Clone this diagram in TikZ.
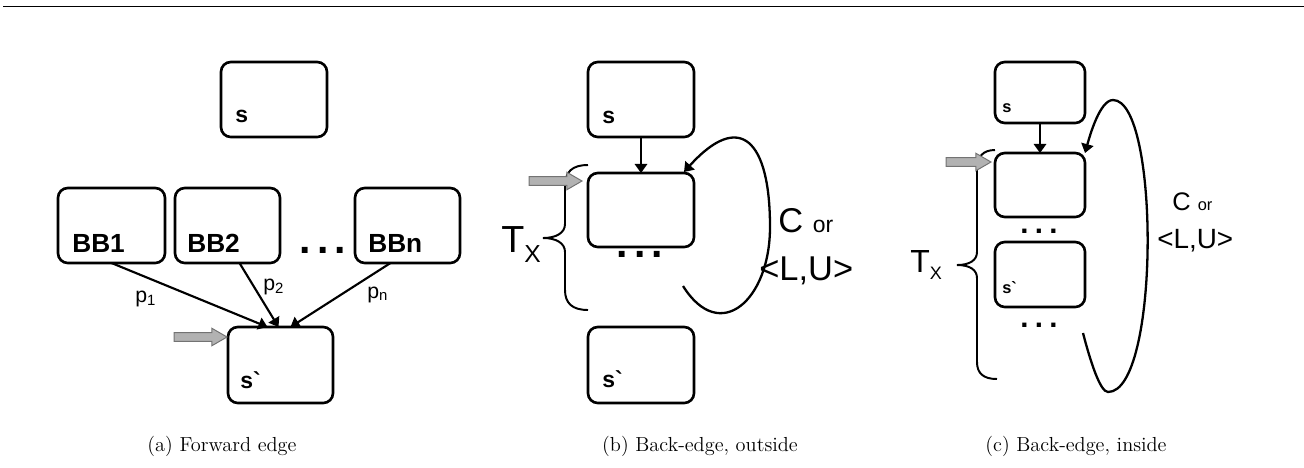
\documentclass[tikz,border=0pt]{standalone}
\usepackage{fontspec}
\setsansfont{Liberation Sans}
\usetikzlibrary{arrows.meta, positioning, calc, shapes.arrows}
\newcommand\pxu{0.61pt}

\begin{document}
\begin{tikzpicture}[
    x=0.61pt, y=-0.61pt,
    block/.style={draw, line width=1.6pt, rounded corners=6pt, inner sep=0pt, outer sep=0pt,
                  minimum width=105*\pxu, minimum height=75*\pxu},
    lbl/.style={font=\sffamily\bfseries\fontsize{#1}{#1}\selectfont, anchor=base west, inner sep=0pt},
    lbl/.default=14,
    plain/.style={font=\sffamily\fontsize{#1}{#1}\selectfont, anchor=base west, inner sep=0pt},
    dotrow/.style={font=\sffamily\bfseries\fontsize{#1}{#1}\selectfont, anchor=base, inner sep=0pt},
    entry/.style={single arrow, fill=black!30, draw=black!55, line width=0.6pt,
                  inner sep=2.4pt, single arrow head extend=2.6pt,
                  single arrow tip angle=60, anchor=tip},
    arrow/.style={-{Triangle[length=5.5pt,width=7.5pt]}, line width=1.3pt},
    loop/.style={-{Triangle[length=5.5pt,width=7.5pt]}, line width=1.4pt},
    brace/.style={line width=1.2pt},
    caption/.style={font=\fontsize{12.4}{14}\selectfont, anchor=base}
]
\useasboundingbox (0,0) rectangle (1304,467);

% top rule
\draw[line width=1.2pt] (3,6.5) -- (1304,6.5);

% (a) forward edge
\node[block, minimum width=106*\pxu] (sa) at (274,99.5) {};
\node[block, minimum width=107*\pxu] (bb1) at (111.5,225.5) {};
\node[block, right=10*\pxu of bb1] (bb2) {};
\node[block] (bbn) at (407.5,225.5) {};
\node[block, minimum height=76*\pxu] (spa) at (280.5,365) {};

\node[lbl] at (235,122) {s};
\node[lbl=16] at (72,252) {BB1};
\node[lbl=16] at (187,252) {BB2};
\node[lbl=16] at (368,252) {BBn};
\node[lbl] at (240,388) {s\textasciigrave};
\node[dotrow=25] (dotsa) at (323,253) {.\kern3.7pt.\kern3.7pt.};

\draw[arrow] (bb1.south) -- ($(spa.north)+(-13,0)$);
\draw[arrow] ($(bb2.south)+(12,0)$) -- ($(spa.north)+(-2,0)$);
\draw[arrow] ($(bbn.south)+(-17,0)$) -- ($(spa.north)+(10,0)$);
\node[plain=13] (p1) at (135,302) {p\textsubscript{1}};
\node[plain=13] (p2) at (263,290) {p\textsubscript{2}};
\node[plain=13] (pn) at (367,298) {p\textsubscript{n}};

\node[entry, minimum height=53*\pxu] (ina) at ($(spa.north west)+(0,10)$) {};

% (b) back-edge, outside
\node[block, minimum width=106*\pxu] (sb) at (641,99.5) {};
\node[block, minimum width=106*\pxu, minimum height=74*\pxu, below=36*\pxu of sb] (mb) {};
\node[block, minimum width=106*\pxu, minimum height=76*\pxu, below=80*\pxu of mb] (spb) {};

\node[lbl] at (602,123) {s};
\node[lbl] at (602,387) {s\textasciigrave};
\node[dotrow=25] (dotsb) at (640,257) {.\kern3.7pt.\kern3.7pt.};

\draw[arrow] (sb.south) -- (mb.north);
\coordinate (lb) at (683,286);
\draw[loop] (lb) .. controls (720,345) and (770,300) .. (770,227)
    .. controls (770,140) and (740,110) .. ($(mb.north east)+(-10,-1)$);

\draw[brace] (588,165) .. controls (572,165) and (565,172) .. (565,186) -- (565,224)
    .. controls (565,233) and (556,238) .. (543,238)
    .. controls (556,238) and (565,243) .. (565,252) -- (565,290)
    .. controls (565,303) and (572,310) .. (588,310);
\node[plain=23] (txb) at (501,252) {T\raisebox{-6.6pt}{\fontsize{15}{15}\selectfont X}};
\node[plain=21] (cb) at (778,232) {C \fontsize{14}{14}\selectfont or};
\node[plain=21] (lub) at (759,280) {<L,U>};

\node[entry, minimum height=53*\pxu] (inb) at ($(mb.north west)+(-5,8)$) {};

% (c) back-edge, inside
\node[block, minimum width=90*\pxu, minimum height=61*\pxu] (sc) at (1040,92.5) {};
\node[block, minimum width=90*\pxu, minimum height=64*\pxu, below=30*\pxu of sc] (mc) {};
\node[block, minimum width=90*\pxu, minimum height=65*\pxu, below=25*\pxu of mc] (spc) {};

\node[lbl=10] at (1002,112) {s};
\node[lbl=10] at (1002,293) {s\textasciigrave};
\node[dotrow=18] (dotsc) at (1039,233) {.\kern3.8pt.\kern3.8pt.};
\node[dotrow=18] (dotsd) at (1039,327) {.\kern3.8pt.\kern3.8pt.};

\draw[arrow] (sc.south) -- (mc.north);
\coordinate (lc) at (1083,333);
\draw[loop] (lc) .. controls (1090,360) and (1100,392) .. (1108,392)
    .. controls (1160,392) and (1160,100) .. (1113,100)
    .. controls (1100,100) and (1090,135) .. (mc.north east);

\draw[brace] (995,150) .. controls (983,150) and (977,157) .. (977,168) -- (977,252)
    .. controls (977,260) and (970,265) .. (957,265)
    .. controls (970,265) and (977,270) .. (977,278) -- (977,362)
    .. controls (977,373) and (983,379) .. (997,379);
\node[plain=19.5] (txc) at (910,272) {T\raisebox{-4.8pt}{\fontsize{11}{11}\selectfont X}};
\node[plain=15.5] (cc) at (1172,210) {C \fontsize{10}{10}\selectfont or};
\node[plain=17] (luc) at (1157,248) {<L,U>};

\node[entry, minimum height=45*\pxu] (inc) at ($(mc.north west)+(-3,9)$) {};

% captions
\node[caption] (capa) at (222,451) {(a) Forward edge};
\node[caption] (capb) at (700,451) {(b) Back-edge, outside};
\node[caption] (capc) at (1076,451) {(c) Back-edge, inside};

\end{tikzpicture}
\end{document}
